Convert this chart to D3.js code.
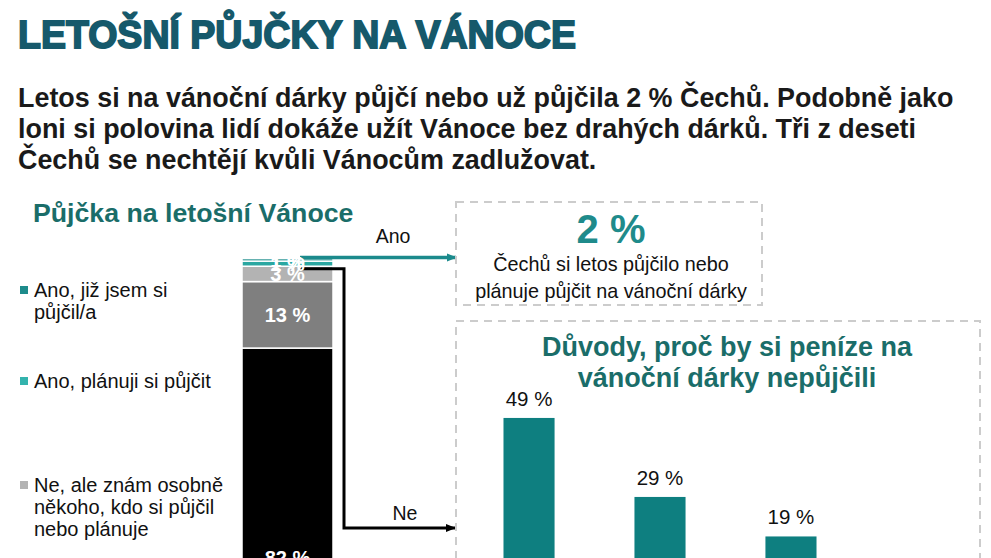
<!DOCTYPE html>
<html><head><meta charset="utf-8">
<script src="https://cdn.jsdelivr.net/npm/d3@7"></script>
<style>html,body{margin:0;padding:0;background:#fff;overflow:hidden}svg{display:block}</style>
</head><body>
<script>
// ---- data ----
const title = "LETOŠNÍ PŮJČKY NA VÁNOCE";
const subtitleLines = [
  "Letos si na vánoční dárky půjčí nebo už půjčila 2 % Čechů. Podobně jako",
  "loni si polovina lidí dokáže užít Vánoce bez drahých dárků. Tři z deseti",
  "Čechů se nechtějí kvůli Vánocům zadlužovat."
];
const stackTitle = "Půjčka na letošní Vánoce";
// stacked bar, from top to bottom
const stackCategories = ["Ano, již jsem si půjčil/a", "Ano, plánuji si půjčit", "Ne, ale znám osobně někoho, kdo si půjčil nebo plánuje", "Ne (jiné)", "Ne"];
const stackValues = [0.5, 1, 3, 13, 82];
const stackColors = ["#23918f", "#2aa7a1", "#b3b3b3", "#7f7f7f", "#000000"];
const legendLines = [["Ano, již jsem si", "půjčil/a"], ["Ano, plánuji si půjčit"], ["Ne, ale znám osobně", "někoho, kdo si půjčil", "nebo plánuje"]];
const legendColors = ["#1e8b8b", "#33b3ad", "#b3b3b3"];
const boxValue = "2 %";
const boxTextLines = ["Čechů si letos půjčilo nebo", "plánuje půjčit na vánoční dárky"];
const reasonsTitle = ["Důvody, proč by si peníze na", "vánoční dárky nepůjčili"];
const reasonKeys = ["důvod 1", "důvod 2", "důvod 3"];
const reasonValues = [49, 29, 19];

const W = 991, H = 558;
const svg = d3.select("body").append("svg").attr("width", W).attr("height", H)
  .style("font-family", "'Liberation Sans', Arial, sans-serif");

// title
svg.append("text").attr("x", 18).attr("y", 48).text(title)
  .attr("font-size", 39).attr("font-weight", 900).attr("fill", "#16596b")
  .attr("stroke", "#16596b").attr("stroke-width", 1.8)
  .attr("textLength", 558).attr("lengthAdjust", "spacingAndGlyphs");

// subtitle
svg.append("g").selectAll("text").data(subtitleLines).join("text")
  .attr("x", 18).attr("y", (d, i) => 107 + i * 31)
  .attr("font-size", 26.9).attr("font-weight", "bold").attr("fill", "#1a1a1a")
  .text(d => d);

// left section title
svg.append("text").attr("x", 33).attr("y", 222).text(stackTitle)
  .attr("font-size", 26.7).attr("font-weight", "bold").attr("fill", "#1a6d69");

// legend
const legStarts = [297, 388, 492];
legendLines.forEach((lines, i) => {
  svg.append("rect").attr("x", 20).attr("y", legStarts[i] - 11).attr("width", 8).attr("height", 8)
    .attr("fill", legendColors[i]);
  lines.forEach((l, j) => {
    svg.append("text").attr("x", 34).attr("y", legStarts[i] + j * 22).text(l)
      .attr("font-size", 20).attr("fill", "#111");
  });
});

// stacked bar
const yS = d3.scaleLinear().domain([0, 100]).range([767.5, 256]);
const barX = 242, barW = 91;
let cum = 0;
const segs = [];
for (let i = stackValues.length - 1; i >= 0; i--) {
  segs.push({i, v: stackValues[i], y0: cum, y1: cum + stackValues[i]});
  cum += stackValues[i];
}
svg.append("g").selectAll("rect").data(segs).join("rect")
  .attr("x", barX).attr("width", barW)
  .attr("y", d => yS(d.y1)).attr("height", d => yS(d.y0) - yS(d.y1))
  .attr("fill", d => stackColors[d.i]).attr("stroke", "#fff").attr("stroke-width", 1.5);

// connectors
svg.append("defs").html(
  '<marker id="mb" markerWidth="10" markerHeight="10" refX="9" refY="5" orient="auto" markerUnits="userSpaceOnUse"><path d="M0,1 L10,5 L0,9 Z" fill="#000"/></marker>' +
  '<marker id="mt" markerWidth="10" markerHeight="10" refX="9" refY="5" orient="auto" markerUnits="userSpaceOnUse"><path d="M0,1 L10,5 L0,9 Z" fill="#1b8a8c"/></marker>');
svg.append("path").attr("d", `M298,${yS(97.5)} H344 V528 H455`).attr("fill", "none")
  .attr("stroke", "#000").attr("stroke-width", 3).attr("marker-end", "url(#mb)");
svg.append("path").attr("d", `M300,257.5 H456`).attr("fill", "none")
  .attr("stroke", "#1b8a8c").attr("stroke-width", 3.5).attr("marker-end", "url(#mt)");
svg.append("text").attr("x", 393).attr("y", 243).attr("text-anchor", "middle").text("Ano")
  .attr("font-size", 19.5).attr("fill", "#111");
svg.append("text").attr("x", 405).attr("y", 520).attr("text-anchor", "middle").text("Ne")
  .attr("font-size", 19.5).attr("fill", "#111");

// segment labels
svg.append("g").selectAll("text").data(segs).join("text")
  .attr("x", barX + barW / 2).attr("y", d => (yS(d.y0) + yS(d.y1)) / 2 + 7)
  .attr("text-anchor", "middle").attr("font-size", 20).attr("font-weight", "bold").attr("fill", "#fff")
  .text(d => Math.round(d.v) + " %");

// dashed boxes
svg.append("rect").attr("x", 456).attr("y", 202).attr("width", 306).attr("height", 103)
  .attr("fill", "none").attr("stroke", "#cccccc").attr("stroke-width", 2).attr("stroke-dasharray", "8,6");
svg.append("rect").attr("x", 456).attr("y", 321).attr("width", 524).attr("height", 400)
  .attr("fill", "none").attr("stroke", "#cccccc").attr("stroke-width", 2).attr("stroke-dasharray", "8,6");

svg.append("text").attr("x", 611).attr("y", 243).attr("text-anchor", "middle").text(boxValue)
  .attr("font-size", 40).attr("font-weight", "bold").attr("fill", "#1f8b8b");
svg.append("g").selectAll("text").data(boxTextLines).join("text")
  .attr("x", 611).attr("y", (d, i) => 271 + i * 27).attr("text-anchor", "middle")
  .attr("font-size", 19.8).attr("fill", "#111").text(d => d);

svg.append("g").selectAll("text").data(reasonsTitle).join("text")
  .attr("x", 727).attr("y", (d, i) => 356 + i * 31).attr("text-anchor", "middle")
  .attr("font-size", 27).attr("font-weight", "bold").attr("fill", "#1a6d69").text(d => d);

// reasons bars
const xR = d3.scaleBand().domain(reasonKeys).range([438, 882]).paddingInner(0.61).paddingOuter(0.5);
const yR = d3.scaleLinear().domain([0, 100]).range([611.5, 216.5]);
svg.append("g").selectAll("rect").data(reasonValues).join("rect")
  .attr("x", (d, i) => xR(reasonKeys[i])).attr("width", xR.bandwidth())
  .attr("y", d => yR(d)).attr("height", d => yR(0) - yR(d)).attr("fill", "#0e7f80");
svg.append("g").selectAll("text").data(reasonValues).join("text")
  .attr("x", (d, i) => xR(reasonKeys[i]) + xR.bandwidth() / 2).attr("y", d => yR(d) - 12)
  .attr("text-anchor", "middle").attr("font-size", 20.5).attr("fill", "#111").text(d => d + " %");
</script>
</body></html>
